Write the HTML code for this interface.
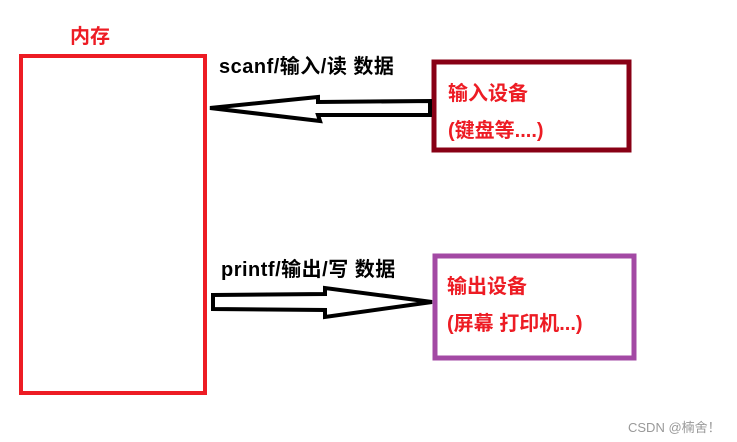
<!DOCTYPE html>
<html><head><meta charset="utf-8"><style>
body{margin:0;width:737px;height:442px;background:#fff;overflow:hidden;position:relative;font-family:"Liberation Sans","Noto Sans CJK SC",sans-serif;}
.t{position:absolute;font-weight:bold;white-space:nowrap;}
</style></head><body>
<svg width="737" height="442" style="position:absolute;left:0;top:0">
<rect x="21" y="56" width="184" height="337" fill="none" stroke="#ed1c24" stroke-width="4"/>
<rect x="434" y="62" width="195" height="88" fill="none" stroke="#880015" stroke-width="5"/>
<rect x="435" y="256" width="199" height="102" fill="none" stroke="#a349a4" stroke-width="5"/>
<polygon points="210,108 318,97 318,102 430,101 430,115 318,115 320,121" fill="none" stroke="#000" stroke-width="4" stroke-linejoin="miter"/>
<polygon points="213,295 325,294 325,288 432,302 325,317 325,310 213,309" fill="none" stroke="#000" stroke-width="4"/>
</svg>
<div class="t" style="left:70px;top:20px;font-size:20px;color:#ed1c24">内存</div>
<div class="t" style="left:219px;top:50px;font-size:20px;letter-spacing:0.5px;color:#000">scanf/输入/读 数据</div>
<div class="t" style="left:221px;top:253px;font-size:20px;letter-spacing:0.5px;color:#000">printf/输出/写 数据</div>
<div class="t" style="left:448px;top:77px;font-size:20px;color:#ed1c24">输入设备</div>
<div class="t" style="left:448px;top:114px;font-size:20px;color:#ed1c24">(键盘等....)</div>
<div class="t" style="left:447px;top:270px;font-size:20px;color:#ed1c24">输出设备</div>
<div class="t" style="left:447px;top:307px;font-size:20px;color:#ed1c24">(屏幕 打印机...)</div>
<div style="position:absolute;left:628px;top:417px;font-size:13px;color:#999;white-space:nowrap">CSDN @楠舍！</div>
</body></html>
